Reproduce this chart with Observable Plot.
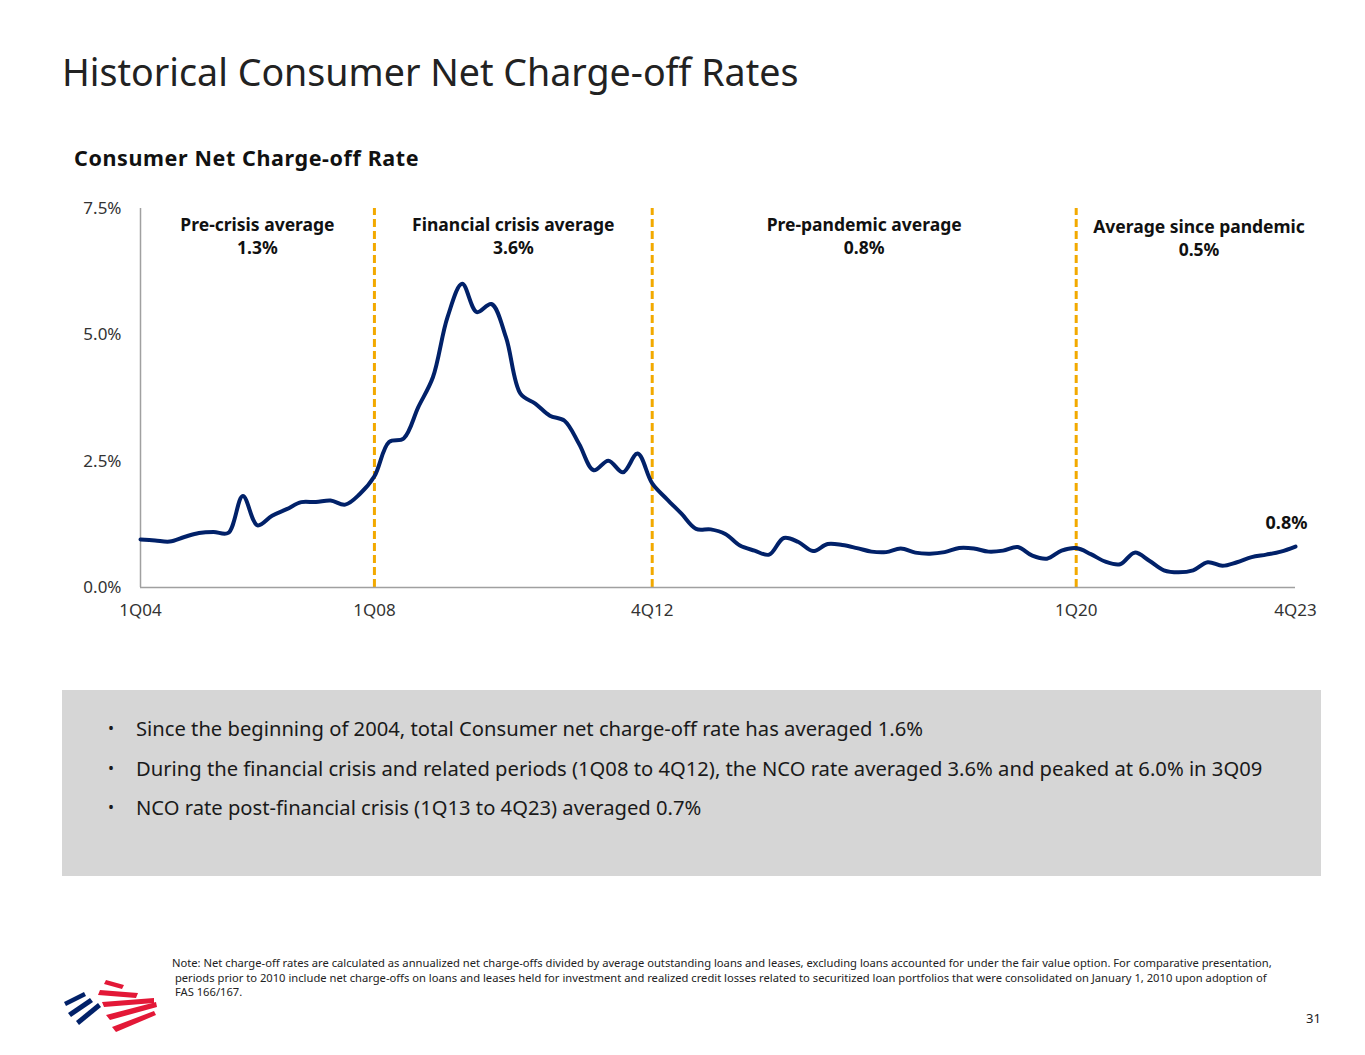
<!DOCTYPE html>
<html>
<head>
<meta charset="utf-8">
<script src="https://cdn.jsdelivr.net/npm/d3@7"></script>
<script src="https://cdn.jsdelivr.net/npm/@observablehq/plot@0.6"></script>
<style>
  body { margin: 0; background: #fff; font-family: "Noto Sans", "Open Sans", sans-serif; color: #1a1a1a; }
  #page { position: relative; width: 1365px; height: 1055px; overflow: hidden; }
  #title { position: absolute; left: 62px; top: 46px; font-size: 37.6px; font-weight: 400; color: #222; }
  #subtitle { position: absolute; left: 74px; top: 143px; font-size: 21.5px; font-weight: 700; color: #111; letter-spacing: 0.6px; }
  #chart { position: absolute; left: 0; top: 180px; }
  #box { position: absolute; left: 62px; top: 690px; width: 1259px; height: 186px; background: #d6d6d6; }
  #box ul { list-style: none; margin: 0; padding: 0; position: absolute; left: 46px; top: 19px; }
  #box li { position: relative; font-size: 20.2px; color: #1a1a1a; line-height: 39.5px; padding-left: 28px; white-space: nowrap; }
  #box li::before { content: "•"; position: absolute; left: 0; top: 0; font-size: 16px; }
  #note { position: absolute; left: 172px; top: 956px; width: 1106px; font-size: 11.2px; line-height: 14.5px; color: #222; white-space: nowrap; }
  #pagenum { position: absolute; left: 1306px; top: 1009px; font-size: 13px; color: #222; }
  #logo { position: absolute; left: 62px; top: 975px; }
</style>
</head>
<body>
<div id="page">
  <div id="title">Historical Consumer Net Charge-off Rates</div>
  <div id="subtitle">Consumer Net Charge-off Rate</div>
  <div id="chart"></div>
  <div id="box">
    <ul>
      <li>Since the beginning of 2004, total Consumer net charge-off rate has averaged 1.6%</li>
      <li>During the financial crisis and related periods (1Q08 to 4Q12), the NCO rate averaged 3.6% and peaked at 6.0% in 3Q09</li>
      <li>NCO rate post-financial crisis (1Q13 to 4Q23) averaged 0.7%</li>
    </ul>
  </div>
  <div id="note">Note: Net charge-off rates are calculated as annualized net charge-offs divided by average outstanding loans and leases, excluding loans accounted for under the fair value option. For comparative presentation,<br>&nbsp;periods prior to 2010 include net charge-offs on loans and leases held for investment and realized credit losses related to securitized loan portfolios that were consolidated on January 1, 2010 upon adoption of<br>&nbsp;FAS 166/167.</div>
  <svg id="logo" width="100" height="70" viewBox="0 0 100 70">
    <g fill="#012169">
      <path d="M2 27 L22 17 L24 21 L4 31 Z"/>
      <path d="M6 38 L28 23 L31 27 L9 42 Z"/>
      <path d="M14 46 L36 28 L39 32 L17 50 Z"/>
    </g>
    <g fill="#e31837">
      <path d="M44 5 L62 10 L60 14 L42 9 Z"/>
      <path d="M38 15 L76 18 L74 23 L36 20 Z"/>
      <path d="M40 27 L92 23 L92 28 L42 32 Z"/>
      <path d="M44 40 L94 27 L95 32 L48 45 Z"/>
      <path d="M50 52 L92 36 L94 40 L54 57 Z"/>
    </g>
  </svg>
  <div id="pagenum">31</div>
</div>
<script>
// Quarter labels (1Q04 .. 4Q23)
const quarters = [
  "1Q04","2Q04","3Q04","4Q04","1Q05","2Q05","3Q05","4Q05","1Q06","2Q06","3Q06","4Q06",
  "1Q07","2Q07","3Q07","4Q07","1Q08","2Q08","3Q08","4Q08","1Q09","2Q09","3Q09","4Q09",
  "1Q10","2Q10","3Q10","4Q10","1Q11","2Q11","3Q11","4Q11","1Q12","2Q12","3Q12","4Q12",
  "1Q13","2Q13","3Q13","4Q13","1Q14","2Q14","3Q14","4Q14","1Q15","2Q15","3Q15","4Q15",
  "1Q16","2Q16","3Q16","4Q16","1Q17","2Q17","3Q17","4Q17","1Q18","2Q18","3Q18","4Q18",
  "1Q19","2Q19","3Q19","4Q19","1Q20","2Q20","3Q20","4Q20","1Q21","2Q21","3Q21","4Q21",
  "1Q22","2Q22","3Q22","4Q22","1Q23","2Q23","3Q23","4Q23"
];
// Consumer net charge-off rate (%)
const ncoRate = [
  0.95, 0.93, 0.91, 1.00, 1.08, 1.10, 1.08, 1.81, 1.23, 1.42, 1.55, 1.69,
  1.69, 1.72, 1.64, 1.85, 2.20, 2.88, 2.95, 3.57, 4.16, 5.35, 6.01, 5.45,
  5.61, 4.95, 3.83, 3.64, 3.40, 3.30, 2.84, 2.32, 2.51, 2.28, 2.65, 2.06,
  1.75, 1.46, 1.16, 1.15, 1.06, 0.83, 0.73, 0.65, 0.98, 0.90, 0.72, 0.86,
  0.84, 0.78, 0.71, 0.70, 0.77, 0.69, 0.67, 0.70, 0.78, 0.77, 0.71, 0.73,
  0.80, 0.63, 0.57, 0.73, 0.78, 0.66, 0.51, 0.46, 0.69, 0.53, 0.34, 0.30,
  0.34, 0.50, 0.43, 0.50, 0.60, 0.65, 0.71, 0.81
];
const tickLabels = ["1Q04", "1Q08", "4Q12", "1Q20", "4Q23"];
const yTicks = [0, 2.5, 5, 7.5];
// Period boundaries (dashed lines)
const dividers = ["1Q08", "4Q12", "1Q20"];
// Period averages
const periodNames = ["Pre-crisis average", "Financial crisis average", "Pre-pandemic average", "Average since pandemic"];
const periodAvgs = ["1.3%", "3.6%", "0.8%", "0.5%"];
const periodStart = ["1Q04", "1Q08", "4Q12", "1Q20"];
const periodEnd = ["1Q08", "4Q12", "1Q20", "4Q23"];
const lastLabel = "0.8%";

const idx = q => quarters.indexOf(q);
const data = quarters.map((q, i) => ({ i, q, v: ncoRate[i] }));
// the last annotation overhangs the plot edge in the reference: nudge its centre by ~0.9 quarter
const periods = periodNames.map((n, k) => ({
  name: n, avg: periodAvgs[k],
  mid: (idx(periodStart[k]) + idx(periodEnd[k])) / 2 + (k === 3 ? 0.9 : 0)
}));

const navy = "#012169";
const gold = "#F2A900";

const chart = Plot.plot({
  width: 1365,
  height: 450,
  marginLeft: 140,
  marginRight: 70,
  marginTop: 28,
  marginBottom: 43,
  style: { fontFamily: "Noto Sans, Open Sans, sans-serif", fontSize: "17px", color: "#333", background: "transparent" },
  x: {
    type: "linear",
    domain: [0, quarters.length - 1],
    ticks: tickLabels.map(idx),
    tickFormat: i => quarters[i],
    tickSize: 0,
    tickPadding: 16,
    label: null
  },
  y: {
    domain: [0, 7.5],
    ticks: yTicks,
    tickFormat: d => d.toFixed(1) + "%",
    tickSize: 0,
    tickPadding: 19,
    label: null
  },
  marks: [
    Plot.ruleX(dividers.map(idx), { stroke: gold, strokeWidth: 3, strokeDasharray: "8,4", y1: 0, y2: 7.5 }),
    Plot.ruleX([0], { stroke: "#a0a0a0", strokeWidth: 1.5 }),
    Plot.ruleY([0], { stroke: "#a0a0a0", strokeWidth: 1.5 }),
    Plot.line(data, { x: "i", y: "v", stroke: navy, strokeWidth: 4, curve: "catmull-rom" }),
    Plot.text(periods.slice(0, 3), { x: "mid", y: 7.5, text: "name", fontWeight: 700, fontSize: 17.5, fill: "#111", dy: 17, lineAnchor: "middle" }),
    Plot.text(periods.slice(0, 3), { x: "mid", y: 7.5, text: "avg", fontWeight: 700, fontSize: 17.5, fill: "#111", dy: 40, lineAnchor: "middle" }),
    Plot.text(periods.slice(3), { x: "mid", y: 7.5, text: "name", fontWeight: 700, fontSize: 17.5, fill: "#111", dy: 19, lineAnchor: "middle" }),
    Plot.text(periods.slice(3), { x: "mid", y: 7.5, text: "avg", fontWeight: 700, fontSize: 17.5, fill: "#111", dy: 42, lineAnchor: "middle" }),
    Plot.text([data[data.length - 1]], { x: "i", y: "v", text: () => lastLabel, fontWeight: 700, fontSize: 18, fill: "#111", dy: -23, dx: -9 })
  ]
});
document.getElementById("chart").appendChild(chart);
</script>
</body>
</html>
